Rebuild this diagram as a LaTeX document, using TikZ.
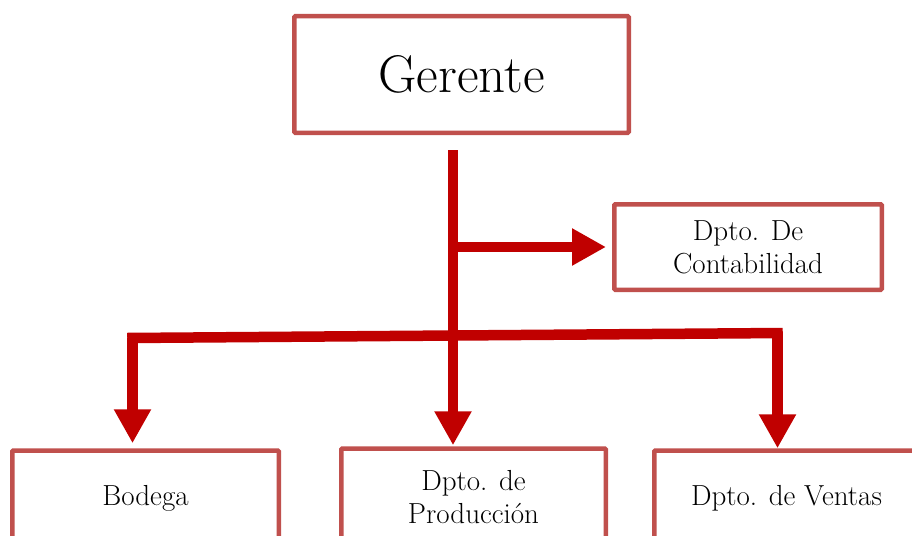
\documentclass[tikz,border=0pt]{standalone}
\usetikzlibrary{arrows.meta}

\begin{document}
\begin{tikzpicture}[x=1pt,y=-1pt,line cap=butt,box/.style={draw=boxcolor,line width=4.5pt,fill=white,rounded corners=1pt,align=center,inner sep=0pt,font=\fontsize{29}{33}\selectfont},link/.style={draw=linkcolor,line width=10.5pt},arrow link/.style={link,-{Triangle[length=34pt,width=35pt]}}]
 \definecolor{boxcolor}{RGB}{192,80,77}
 \definecolor{linkcolor}{RGB}{192,0,0}

 \useasboundingbox (0,0) rectangle (912,535);
 \clip (0,0) rectangle (912,535);

 \node[box,minimum width=334.5pt,minimum height=116.5pt,font=\fontsize{53}{60}\selectfont] (gerente) at (461.5,74.5) {Gerente};
 \node[box,minimum width=267.5pt,minimum height=85.5pt] (conta) at (748,247) {Dpto. De\\Contabilidad};

 \node[box,minimum width=266.5pt,minimum height=95pt] (bodega) at (145.5,498) {Bodega};
 \node[box,minimum width=264.5pt,minimum height=97pt] (prod) at (473.5,497) {Dpto. de\\Producci\'on};
 \node[box,minimum width=264.5pt,minimum height=95pt] (ventas) at (786.5,498) {Dpto. de Ventas};

 % trunk and branches
 \coordinate (top) at (453,150);
 \coordinate (left end) at (132.5,338);
 \coordinate (right end) at (777.5,333);

 \draw[arrow link,shorten >=1pt] (top) -- (top |- prod.north);
 \draw[arrow link,shorten >=6pt] (top |- conta.west) -- (conta.west);
 \draw[link] ([xshift=-5.25pt]left end) -- ([xshift=5.25pt]right end);
 \draw[arrow link,shorten >=5pt] (left end) -- (left end |- bodega.north);
 \draw[arrow link] (right end) -- (right end |- ventas.north);
\end{tikzpicture}
\end{document}
